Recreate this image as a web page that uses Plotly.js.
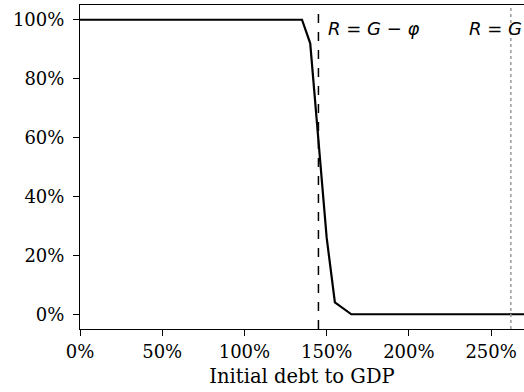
<!DOCTYPE html>
<html><head><meta charset="utf-8">
<script src="https://cdn.plot.ly/plotly-3.0.1.min.js"></script>
<style>html,body{margin:0;padding:0;background:#fff}#c{width:524px;height:392px}</style>
</head><body><div id="c"></div>
<script>
const debt = [0,5,10,15,20,25,30,35,40,45,50,55,60,65,70,75,80,85,90,95,100,105,110,115,120,125,130,135,140,145,150,155,160,165,170,180,190,200,210,220,230,240,250,260,270];
const share = [100,100,100,100,100,100,100,100,100,100,100,100,100,100,100,100,100,100,100,100,100,100,100,100,100,100,100,100,92,58,26,4,2,0,0,0,0,0,0,0,0,0,0,0,0];
const thresholdX = [145, 262];
const thresholdLabels = ['<i>R</i> = <i>G</i> − <i>φ</i>', '<i>R</i> = <i>G</i>'];
const labelX = [149.5, 235.5];
const xTicks = [0,50,100,150,200,250];
const yTicks = [0,20,40,60,80,100];
const serif = 'DejaVu Serif';
const data = [{x: debt, y: share, type:'scatter', mode:'lines', line:{color:'#000', width:2.2}, hoverinfo:'skip'}];
const shapes = [
  {type:'line', xref:'x', yref:'paper', x0:thresholdX[0], x1:thresholdX[0], y0:0, y1:1, line:{color:'#000', width:1.5, dash:'dash'}},
  {type:'line', xref:'x', yref:'paper', x0:thresholdX[1], x1:thresholdX[1], y0:0, y1:1, line:{color:'#999', width:1.5, dash:'dot'}}
];
const annotations = thresholdLabels.map((t,i)=>({x:labelX[i], y:97, xref:'x', yref:'y', text:t, showarrow:false, xanchor:'left', yanchor:'middle', font:{family:'DejaVu Sans', size:18, color:'#000'}}));
const layout = {
  width:524, height:392, margin:{l:80, r:0, t:5, b:63},
  paper_bgcolor:'#fff', plot_bgcolor:'#fff', showlegend:false,
  xaxis:{range:[0,270], tickvals:xTicks, ticktext:xTicks.map(v=>v+'%'), ticks:'outside', ticklen:6, tickwidth:1, tickcolor:'#000',
    showline:true, linecolor:'#000', linewidth:1, mirror:true, showgrid:false, zeroline:false,
    tickfont:{family:serif, size:18, color:'#000'}, title:{text:'Initial debt to GDP', font:{family:serif, size:19.5, color:'#000'}, standoff:8}},
  yaxis:{range:[-5,105], tickvals:yTicks, ticktext:yTicks.map(v=>v+'%'), ticks:'outside', ticklen:6, tickwidth:1, tickcolor:'#000',
    ticklabelstandoff:5,
    showline:true, linecolor:'#000', linewidth:1, mirror:true, showgrid:false, zeroline:false,
    tickfont:{family:serif, size:18, color:'#000'}},
  shapes: shapes, annotations: annotations
};
Plotly.newPlot('c', data, layout, {staticPlot:true, displayModeBar:false});
</script></body></html>
